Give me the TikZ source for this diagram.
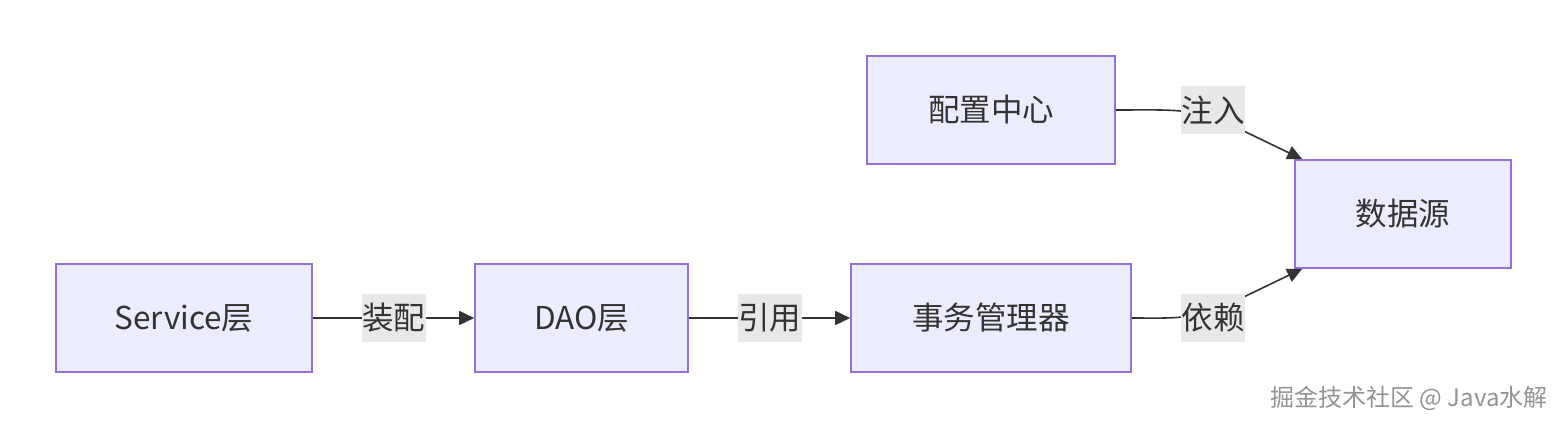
\documentclass[tikz,border=0pt]{standalone}
\usepackage{fontspec}
\setmainfont{Noto Sans CJK SC}
\usetikzlibrary{arrows.meta,shadows}
\definecolor{nodefill}{HTML}{ECECFF}
\definecolor{nodeborder}{HTML}{9370DB}
\definecolor{labelbg}{HTML}{E8E8E8}
\definecolor{ink}{HTML}{333333}
\tikzset{
  box/.style={draw=nodeborder, fill=nodefill, line width=1.6pt, minimum height=108pt, text=ink, font=\fontsize{31.5}{34}\selectfont, inner sep=0pt},
  elabel/.style={fill=labelbg, text=ink, font=\fontsize{31.5}{34}\selectfont, inner sep=0.5pt, minimum height=48pt, minimum width=64pt},
  conn/.style={draw=ink, line width=1.6pt, -{Triangle[length=15pt,width=14pt]}}
}
\begin{document}
\begin{tikzpicture}[x=1pt,y=-1pt]
\useasboundingbox (0,0) rectangle (1567,428);
\node[box, minimum width=256pt] (svc) at (184,318) {Service层};
\node[box, minimum width=213pt] (dao) at (581.5,318) {DAO层};
\node[box, minimum width=280pt] (tx) at (991,318) {事务管理器};
\node[box, minimum width=248pt] (cfg) at (991,110) {配置中心};
\node[box, minimum width=216pt] (ds) at (1403,214) {数据源};
\coordinate (dstop) at ([xshift=8pt]ds.north west);
\coordinate (dsbot) at ([xshift=8pt]ds.south west);
\draw[conn] (svc.east) -- node[elabel] (l1) {装配} (dao.west);
\draw[conn] (dao.east) -- node[elabel] (l2) {引用} (tx.west);
\draw[conn] (cfg.east) .. controls (1170,110) and (1190,108) .. (1225,122) -- (dstop);
\draw[conn] (tx.east) .. controls (1170,318) and (1190,320) .. (1225,306) -- (dsbot);
\node[elabel] (l3) at (1213,110) {注入};
\node[elabel] (l4) at (1213,318) {依赖};
\node[text=gray!85, font=\fontsize{24}{27}\selectfont, anchor=east, inner sep=0pt] (wm) at (1548,398) {掘金技术社区 @ Java水解};
\end{tikzpicture}
\end{document}
